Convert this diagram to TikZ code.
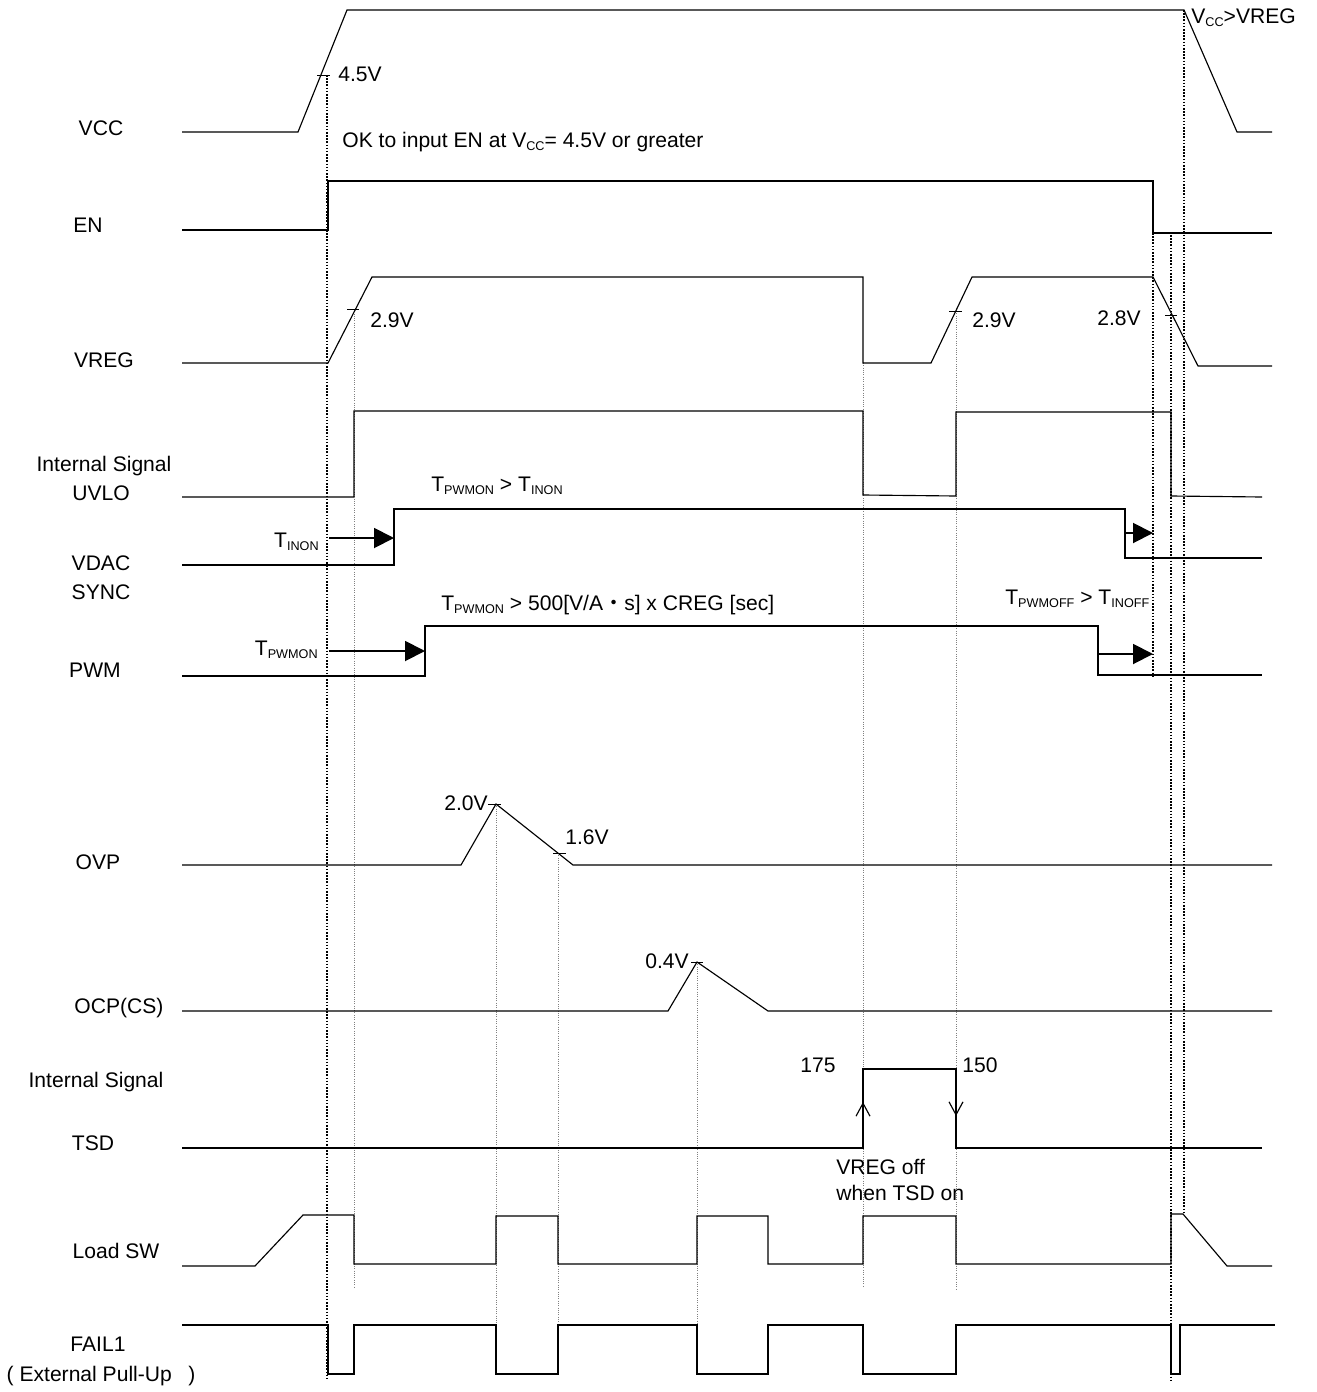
\documentclass[tikz,border=0pt]{standalone}
\usepackage{fontspec}
\setmainfont{Liberation Sans}
\newfontfamily\cjkfont{Noto Sans CJK JP}
\usetikzlibrary{arrows.meta}
\newcommand\sub[1]{\raisebox{-1.7pt}{\fontsize{7.2}{8}\selectfont #1}}

\begin{document}
\begin{tikzpicture}[x=0.02cm,y=-0.02cm,
   lb/.style={inner sep=0pt,font=\fontsize{12}{14.7}\selectfont},
   an/.style={lb,yshift=-1.2pt},
   sig/.style={line width=0.65pt},
   gd/.style={gray,line width=0.45pt,dash pattern=on 0.5pt off 0.8pt},
   gk/.style={line width=0.9pt,dash pattern=on 0.9pt off 0.9pt},
   tk/.style={line width=0.5pt},
   ar/.style={-{Triangle[length=4mm,width=4mm]},line width=1.1pt},
   ba/.style={-{Straight Barb[length=2.6mm,width=2.8mm]},line width=0.65pt}]
  \useasboundingbox (0,0) rectangle (1317,1392);

  % signal names
  \node[lb] (nvcc) at (101,128) {VCC};
  \node[lb] (nen)  at (88,225)  {EN};
  \node[lb] (nvreg) at (104,360) {VREG};
  \node[lb] (nis1) at (104,466) {Internal Signal};
  \node[lb] (nuvlo) at (101,493) {UVLO};
  \node[lb] (nvdac) at (101,563) {VDAC};
  \node[lb] (nsync) at (101,592) {SYNC};
  \node[lb] (npwm) at (95,670) {PWM};
  \node[lb] (novp) at (98,862) {OVP};
  \node[lb] (nocp) at (119,1008) {OCP(CS)};
  \node[lb] (nis2) at (96,1082) {Internal Signal};
  \node[lb] (ntsd) at (93,1143) {TSD};
  \node[lb] (nload) at (116,1251) {Load SW};
  \node[lb] (nfail) at (98,1344) {FAIL1};
  \node[lb] (npull) at (101,1376) {( External Pull-Up\enspace\ )};

  % guide lines
  \draw[gk] (327,75) -- (327,1378);
  \draw[gk] (1153,233) -- (1153,676);
  \draw[gk] (1171,235) -- (1171,1380);
  \draw[gk] (1184,10) -- (1184,1213);
  \draw[gd] (354,309) -- (354,1287);
  \draw[gd] (496,804) -- (496,1325);
  \draw[gd] (558,853) -- (558,1325);
  \draw[gd] (697,962) -- (697,1325);
  \draw[gd] (863,363) -- (863,1287);
  \draw[gd] (956,311) -- (956,1290);

  % waveforms
  \draw[sig] (182,132) -- (298,132) -- (347,10) -- (1184,10) -- (1237,132) -- (1272,132);
  \draw[sig] (182,230) -- (328,230) -- (328,181) -- (1153,181) -- (1153,233) -- (1272,233);
  \draw[sig] (182,363) -- (328,363) -- (372,277) -- (863,277) -- (863,363) -- (931,363)
     -- (972,277) -- (1153,277) -- (1198,366) -- (1272,366);
  \draw[sig] (182,497) -- (354,497) -- (354,411) -- (863,411) -- (863,495) -- (956,496)
     -- (956,412) -- (1171,412) -- (1171,496) -- (1262,497);
  \draw[sig] (182,565) -- (394,565) -- (394,509) -- (1125,509) -- (1125,558) -- (1262,558);
  \draw[sig] (182,676) -- (425,676) -- (425,626) -- (1098,626) -- (1098,675) -- (1262,675);
  \draw[sig] (182,865) -- (461,865) -- (496,804) -- (573,865) -- (1272,865);
  \draw[sig] (182,1011) -- (668,1011) -- (697,962) -- (768,1011) -- (1272,1011);
  \draw[sig] (182,1148) -- (863,1148) -- (863,1069) -- (956,1069) -- (956,1148) -- (1262,1148);
  \draw[sig] (182,1266) -- (255,1266) -- (303,1215) -- (354,1215) -- (354,1264) -- (496,1264)
     -- (496,1216) -- (558,1216) -- (558,1264) -- (697,1264) -- (697,1216) -- (768,1216)
     -- (768,1264) -- (863,1264) -- (863,1216) -- (956,1216) -- (956,1264) -- (1171,1264)
     -- (1171,1214) -- (1183,1214) -- (1227,1266) -- (1272,1266);
  \draw[sig] (182,1325) -- (328,1325) -- (328,1374) -- (354,1374) -- (354,1325) -- (496,1325)
     -- (496,1374) -- (558,1374) -- (558,1325) -- (697,1325) -- (697,1374) -- (768,1374)
     -- (768,1325) -- (863,1325) -- (863,1374) -- (956,1374) -- (956,1325) -- (1171,1325)
     -- (1171,1374) -- (1180,1374) -- (1180,1325) -- (1275,1325);

  % level ticks
  \draw[tk] (317,75) -- (330,75);
  \draw[tk] (347,309) -- (359,309);
  \draw[tk] (949,311) -- (962,311);
  \draw[tk] (1165,315) -- (1177,315);
  \draw[tk] (488,804) -- (501,804);
  \draw[tk] (553,853) -- (566,853);
  \draw[tk] (691,962) -- (703,962);

  % timing arrows
  \draw[ar] (329,538) -- (394,538);
  \draw[ar] (1125,533) -- (1153,533);
  \draw[ar] (329,651) -- (425,651);
  \draw[ar] (1098,654) -- (1153,654);
  \draw[ba] (863,1125) -- (863,1102);
  \draw[ba] (956,1093) -- (956,1116);

  % annotations
  \node[an,anchor=mid west] (v45) at (338,75) {4.5V};
  \node[an,anchor=mid west] (okin) at (342,141) {OK to input EN at V\sub{CC}= 4.5V or greater};
  \node[an,anchor=mid west] (vgt) at (1191,17) {V\sub{CC}>VREG};
  \node[an,anchor=mid west] (v29a) at (370,321) {2.9V};
  \node[an,anchor=mid west] (v29b) at (972,321) {2.9V};
  \node[an,anchor=mid east] (v28) at (1141,319) {2.8V};
  \node[an,anchor=mid west] (ton) at (431,485) {T\sub{PWMON} > T\sub{INON}};
  \node[an,anchor=mid east] (tinon) at (319,541) {T\sub{INON}};
  \node[an,anchor=mid east] (tpwm) at (318,649) {T\sub{PWMON}};
  \node[an,anchor=mid west] (tcreg) at (441,604)
       {T\sub{PWMON} > 500[V/A{\cjkfont ・}s] x CREG [sec]};
  \node[an,anchor=mid west] (toff) at (1005,598) {T\sub{PWMOFF} > T\sub{INOFF}};
  \node[an,anchor=mid east] (v20) at (488,804) {2.0V};
  \node[an,anchor=mid west] (v16) at (565,838) {1.6V};
  \node[an,anchor=mid east] (v04) at (689,962) {0.4V};
  \node[an,anchor=mid west] (t175) at (800,1066) {175};
  \node[an,anchor=mid west] (t150) at (962,1066) {150};
  \node[lb,anchor=west,align=left] (voff) at (836,1180) {VREG off\\when TSD on};
\end{tikzpicture}
\end{document}
